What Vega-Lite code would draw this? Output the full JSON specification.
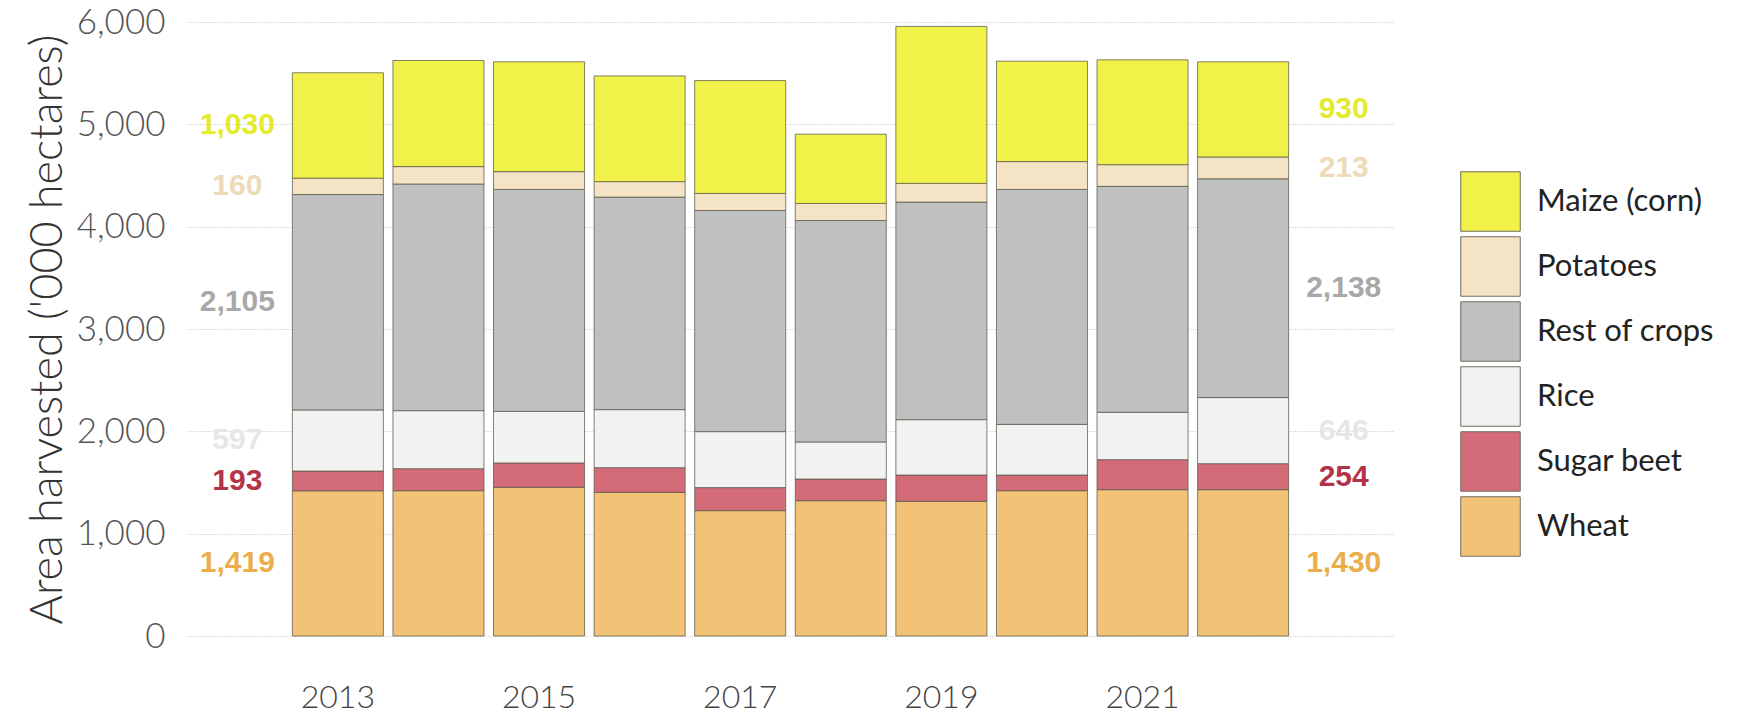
{
  "$schema": "https://vega.github.io/schema/vega-lite/v6.json",
  "width": 1207,
  "height": 614,
  "autosize": {"type": "none"},
  "padding": {"left": 187, "top": 22, "right": 364, "bottom": 81},
  "background": "white",
  "config": {"view": {"stroke": null}},
  "data": {
    "values": [
      {"year": "2013", "crop": "Wheat", "value": 1419}, {"year": "2013", "crop": "Sugar beet", "value": 193}, {"year": "2013", "crop": "Rice", "value": 597}, {"year": "2013", "crop": "Rest of crops", "value": 2105}, {"year": "2013", "crop": "Potatoes", "value": 160}, {"year": "2013", "crop": "Maize (corn)", "value": 1030},
      {"year": "2014", "crop": "Wheat", "value": 1420}, {"year": "2014", "crop": "Sugar beet", "value": 215}, {"year": "2014", "crop": "Rice", "value": 567}, {"year": "2014", "crop": "Rest of crops", "value": 2215}, {"year": "2014", "crop": "Potatoes", "value": 170}, {"year": "2014", "crop": "Maize (corn)", "value": 1037},
      {"year": "2015", "crop": "Wheat", "value": 1453}, {"year": "2015", "crop": "Sugar beet", "value": 238}, {"year": "2015", "crop": "Rice", "value": 504}, {"year": "2015", "crop": "Rest of crops", "value": 2169}, {"year": "2015", "crop": "Potatoes", "value": 174}, {"year": "2015", "crop": "Maize (corn)", "value": 1073},
      {"year": "2016", "crop": "Wheat", "value": 1404}, {"year": "2016", "crop": "Sugar beet", "value": 241}, {"year": "2016", "crop": "Rice", "value": 567}, {"year": "2016", "crop": "Rest of crops", "value": 2077}, {"year": "2016", "crop": "Potatoes", "value": 151}, {"year": "2016", "crop": "Maize (corn)", "value": 1033},
      {"year": "2017", "crop": "Wheat", "value": 1225}, {"year": "2017", "crop": "Sugar beet", "value": 225}, {"year": "2017", "crop": "Rice", "value": 547}, {"year": "2017", "crop": "Rest of crops", "value": 2161}, {"year": "2017", "crop": "Potatoes", "value": 167}, {"year": "2017", "crop": "Maize (corn)", "value": 1103},
      {"year": "2018", "crop": "Wheat", "value": 1322}, {"year": "2018", "crop": "Sugar beet", "value": 212}, {"year": "2018", "crop": "Rice", "value": 362}, {"year": "2018", "crop": "Rest of crops", "value": 2164}, {"year": "2018", "crop": "Potatoes", "value": 167}, {"year": "2018", "crop": "Maize (corn)", "value": 677},
      {"year": "2019", "crop": "Wheat", "value": 1316}, {"year": "2019", "crop": "Sugar beet", "value": 257}, {"year": "2019", "crop": "Rice", "value": 541}, {"year": "2019", "crop": "Rest of crops", "value": 2126}, {"year": "2019", "crop": "Potatoes", "value": 183}, {"year": "2019", "crop": "Maize (corn)", "value": 1534},
      {"year": "2020", "crop": "Wheat", "value": 1420}, {"year": "2020", "crop": "Sugar beet", "value": 153}, {"year": "2020", "crop": "Rice", "value": 495}, {"year": "2020", "crop": "Rest of crops", "value": 2296}, {"year": "2020", "crop": "Potatoes", "value": 272}, {"year": "2020", "crop": "Maize (corn)", "value": 981},
      {"year": "2021", "crop": "Wheat", "value": 1430}, {"year": "2021", "crop": "Sugar beet", "value": 293}, {"year": "2021", "crop": "Rice", "value": 463}, {"year": "2021", "crop": "Rest of crops", "value": 2208}, {"year": "2021", "crop": "Potatoes", "value": 212}, {"year": "2021", "crop": "Maize (corn)", "value": 1024},
      {"year": "2022", "crop": "Wheat", "value": 1430}, {"year": "2022", "crop": "Sugar beet", "value": 254}, {"year": "2022", "crop": "Rice", "value": 646}, {"year": "2022", "crop": "Rest of crops", "value": 2138}, {"year": "2022", "crop": "Potatoes", "value": 213}, {"year": "2022", "crop": "Maize (corn)", "value": 930}
    ]
  },
  "layer": [
    {
      "mark": {"type": "bar", "stroke": "#5a5a4a", "strokeOpacity": 0.75, "strokeWidth": 1},
      "encoding": {
        "x": {
          "field": "year", "type": "nominal",
          "scale": {"domain": ["L", "2013", "2014", "2015", "2016", "2017", "2018", "2019", "2020", "2021", "2022", "R"], "paddingInner": 0.095, "paddingOuter": 0.0475},
          "axis": {"values": ["2013", "2015", "2017", "2019", "2021"], "title": null, "labelAngle": 0, "ticks": false, "domain": false, "labelFont": "Lato", "labelFontWeight": 300, "labelFontSize": 32, "labelColor": "#444", "labelPadding": 46}
        },
        "y": {
          "field": "value", "type": "quantitative", "stack": "zero",
          "scale": {"domain": [0, 6000], "nice": false},
          "axis": {"values": [0, 1000, 2000, 3000, 4000, 5000, 6000], "labelExpr": "format(datum.value, ',')", "title": "Area harvested ('000 hectares)", "titleFont": "Lato", "titleFontWeight": 300, "titleFontSize": 45, "titleColor": "#333", "titlePadding": 6, "labelFont": "Lato", "labelFontWeight": 300, "labelFontSize": 35, "labelColor": "#555", "labelPadding": 22, "ticks": false, "domain": false, "grid": true, "gridColor": "#c8c8c8", "gridDash": [1, 1.5], "gridWidth": 1}
        },
        "color": {
          "field": "crop", "type": "nominal",
          "scale": {"domain": ["Maize (corn)", "Potatoes", "Rest of crops", "Rice", "Sugar beet", "Wheat"], "range": ["#F1F249", "#F5E3C5", "#C0C0C0", "#F2F2F2", "#D46B78", "#F2C277"]},
          "legend": {"title": null, "orient": "none", "legendX": 1273, "legendY": 149, "padding": 0, "symbolType": "square", "symbolSize": 3540, "symbolStrokeColor": "#6e6e5e", "symbolStrokeWidth": 1, "symbolOpacity": 1, "rowPadding": 0, "labelFont": "Lato", "labelFontSize": 31, "labelColor": "#222", "labelOffset": 16, "labelLimit": 400}
        },
        "order": {"field": "crop", "sort": "descending"}
      }
    },
    {
      "transform": [
        {"filter": "datum.year == '2013' || datum.year == '2022'"},
        {"stack": "value", "groupby": ["year"], "sort": [{"field": "crop", "order": "descending"}], "as": ["v0", "v1"]},
        {"calculate": "(datum.v0 + datum.v1) / 2", "as": "mid"},
        {"calculate": "datum.year == '2013' ? 'L' : 'R'", "as": "side"}
      ],
      "mark": {"type": "text", "font": "Liberation Sans", "fontWeight": "bold", "fontSize": 30, "align": "center", "baseline": "middle"},
      "encoding": {
        "x": {"field": "side", "type": "nominal"},
        "y": {"field": "mid", "type": "quantitative"},
        "text": {"field": "value", "type": "quantitative", "format": ","},
        "color": {
          "field": "crop", "type": "nominal",
          "scale": {"domain": ["Maize (corn)", "Potatoes", "Rest of crops", "Rice", "Sugar beet", "Wheat"], "range": ["#E4EA2C", "#EDDAB6", "#A8A8A8", "#E6E6E6", "#B3344A", "#EBAE4A"]},
          "legend": null
        }
      }
    }
  ],
  "resolve": {"scale": {"color": "independent"}}
}
